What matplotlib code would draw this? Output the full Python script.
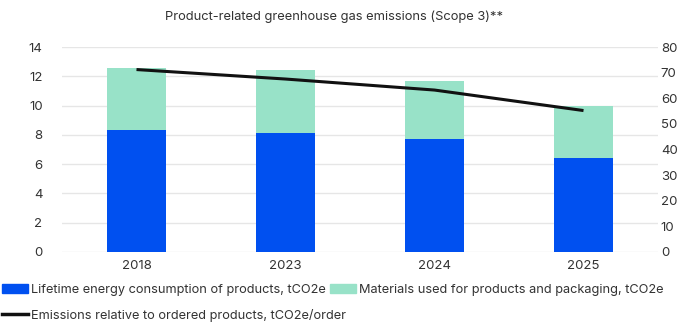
import matplotlib.pyplot as plt
from matplotlib.patches import Patch
from matplotlib.lines import Line2D

plt.rcParams['font.family'] = ['Inter', 'DejaVu Sans']

years = ['2018', '2023', '2024', '2025']
energy = [8.3, 8.1, 7.7, 6.4]        # lifetime energy consumption, tCO2e
materials = [4.3, 4.3, 4.0, 3.6]     # materials for products and packaging, tCO2e
per_order = [71.2, 67.5, 63.2, 55.2]  # tCO2e/order (right axis)

blue = '#0050f0'
mint = '#98e2c8'
grid_c = '#e6e6e6'
text_c = '#333333'

fig = plt.figure(figsize=(6.96, 3.3), dpi=100)
ax = fig.add_axes([62 / 696, 1 - 252 / 330, 596 / 696, 205 / 330])
ax2 = ax.twinx()

x = list(range(len(years)))
ax.bar(x, energy, width=0.4, color=blue, zorder=2)
ax.bar(x, materials, width=0.4, bottom=energy, color=mint, zorder=2)
ax2.plot(x, per_order, color='#111111', lw=2.2, solid_capstyle='butt')

ax.set_xlim(-0.5, 3.5)
ax.set_ylim(0, 14)
ax.set_yticks(range(0, 15, 2))
ax2.set_ylim(0, 80)
ax2.set_yticks(range(0, 81, 10))
ax.set_xticks(x)
ax.set_xticklabels(years)

ax.grid(axis='y', color=grid_c, lw=1, zorder=0)
ax.set_axisbelow(True)
for a in (ax, ax2):
    for s in a.spines.values():
        s.set_visible(False)
    a.tick_params(length=0, labelsize=9.5, colors=text_c)
ax.tick_params(axis='y', pad=14)
ax2.tick_params(axis='y', pad=2)
ax.tick_params(axis='x', pad=6)

fig.text(334 / 696, 1 - 17 / 330, 'Product-related greenhouse gas emissions (Scope 3)**',
         ha='center', va='center', fontsize=9.3, color=text_c)

legend_kw = dict(loc='upper left', frameon=False, fontsize=9.2, handlelength=2.0,
                 handleheight=0.6, handletextpad=0.3, labelspacing=1.0,
                 borderaxespad=0, borderpad=0, labelcolor=text_c)
fig.legend([Patch(color=blue), Line2D([], [], color='#111111', lw=2.5)],
           ['Lifetime energy consumption of products, tCO2e',
            'Emissions relative to ordered products, tCO2e/order'],
           bbox_to_anchor=(2 / 696, 1 - 284 / 330), **legend_kw)
fig.legend([Patch(color=mint)],
           ['Materials used for products and packaging, tCO2e'],
           bbox_to_anchor=(330 / 696, 1 - 284 / 330), **legend_kw)

fig.savefig('out.png', dpi=100)
